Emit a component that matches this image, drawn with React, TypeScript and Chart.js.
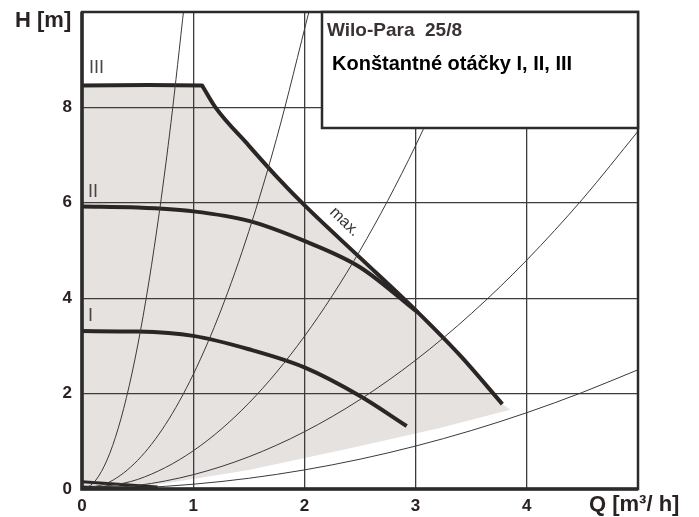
import React, { useEffect, useRef } from 'react';
import { Chart, registerables } from 'chart.js';
Chart.register(...registerables);

// ---- axis ranges / ticks ----
const xMax = 5;
const yMax = 10;
const xHiddenTick = 5;
const yHiddenTick = 10;

// ---- pump curves (Q [m3/h], H [m]) ----
const speedIIIQ = [0, 0.6, 1.08];
const speedIIIH = [8.46, 8.47, 8.46];
const maxQ = [1.08, 1.2, 1.5, 1.75, 2.0, 2.5, 3.0, 3.4, 3.78];
const maxH = [8.46, 8.0, 7.2, 6.55, 5.95, 4.85, 3.75, 2.8, 1.78];
const speedIIQ = [0, 0.5, 1.0, 1.5, 2.0, 2.5, 3.02];
const speedIIH = [5.92, 5.9, 5.82, 5.62, 5.2, 4.65, 3.7];
const speedIQ = [0, 0.5, 1.0, 1.5, 2.0, 2.5, 2.92];
const speedIH = [3.31, 3.3, 3.21, 2.93, 2.55, 1.95, 1.32];

// ---- system curves ----
const sysAQ = [0, 0.1, 0.2, 0.3, 0.4, 0.5, 0.6, 0.7, 0.8, 0.92];
const sysAH = [0, 0.12, 0.48, 1.08, 1.92, 3.0, 4.32, 5.88, 7.68, 10.16];
const sysBQ = [0, 0.25, 0.5, 0.75, 1.0, 1.25, 1.5, 1.75, 2.05];
const sysBH = [0, 0.15, 0.6, 1.35, 2.4, 3.75, 5.4, 7.35, 10.09];
const sysCQ = [0, 0.5, 1.0, 1.5, 2.0, 2.5, 3.0, 3.55];
const sysCH = [0, 0.2, 0.8, 1.8, 3.2, 5.0, 7.2, 10.08];
const sysDQ = [0, 0.5, 1.0, 1.5, 2.0, 2.5, 3.0, 3.5, 4.0, 4.5, 5.0];
const sysDH = [0, 0.075, 0.3, 0.675, 1.2, 1.875, 2.7, 3.675, 4.8, 6.075, 7.5];
const sysEQ = [0, 0.5, 1.0, 1.5, 2.0, 2.5, 3.0, 3.5, 4.0, 4.5, 5.0];
const sysEH = [0, 0.025, 0.1, 0.225, 0.4, 0.625, 0.9, 1.225, 1.6, 2.025, 2.5];

// ---- small low-flow segments near origin ----
const lowQ = [0, 0.68];
const lowH1 = [0.15, 0.04];
const lowH2 = [0.05, 0.02];

// ---- lower edge of grey operating field ----
const grayLowQ = [3.85, 3.2, 2.4, 1.5, 0.7, 0];
const grayLowH = [1.66, 1.27, 0.85, 0.4, 0.1, 0];

const titleText = 'Wilo-Para  25/8';
const subtitleText = 'Konštantné otáčky I, II, III';
const yAxisTitle = 'H [m]';
const xAxisTitle = 'Q [m³/ h]';

const FONT = '"Liberation Sans", Arial, sans-serif';

const pts = (q: number[], h: number[]) => q.map((v, i) => ({ x: v, y: h[i] }));

const App = () => {
  const ref = useRef<HTMLCanvasElement>(null);
  useEffect(() => {
    if (!ref.current) return;
    const thick = (q: number[], h: number[]) => ({
      data: pts(q, h),
      showLine: true,
      borderColor: '#2a2625',
      borderWidth: 4,
      pointRadius: 0,
      cubicInterpolationMode: 'monotone' as const,
      borderCapStyle: 'butt' as const,
      borderJoinStyle: 'round' as const,
    });
    const thin = (q: number[], h: number[]) => ({
      data: pts(q, h),
      showLine: true,
      borderColor: '#3a3a3a',
      borderWidth: 1,
      pointRadius: 0,
      cubicInterpolationMode: 'monotone' as const,
    });

    const decor = {
      id: 'decor',
      beforeDraw(chart: any) {
        const { ctx } = chart;
        const xs = chart.scales.x;
        const ys = chart.scales.y;
        const X = (v: number) => xs.getPixelForValue(v);
        const Y = (v: number) => ys.getPixelForValue(v);
        ctx.save();
        ctx.beginPath();
        ctx.moveTo(X(0), Y(0));
        speedIIIQ.forEach((q, i) => ctx.lineTo(X(q), Y(speedIIIH[i])));
        maxQ.forEach((q, i) => ctx.lineTo(X(q), Y(maxH[i])));
        grayLowQ.forEach((q, i) => ctx.lineTo(X(q), Y(grayLowH[i])));
        ctx.closePath();
        ctx.fillStyle = '#e6e2e0';
        ctx.fill();
        ctx.restore();
      },
      afterDraw(chart: any) {
        const { ctx, chartArea: ca } = chart;
        const xs = chart.scales.x;
        const ys = chart.scales.y;
        const X = (v: number) => xs.getPixelForValue(v);
        const Y = (v: number) => ys.getPixelForValue(v);
        ctx.save();
        // frame
        ctx.strokeStyle = '#2b2b2b';
        ctx.lineWidth = 2.5;
        ctx.strokeRect(ca.left, ca.top, ca.right - ca.left, ca.bottom - ca.top);
        ctx.lineWidth = 3.5;
        ctx.beginPath();
        ctx.moveTo(ca.left, ca.top);
        ctx.lineTo(ca.left, ca.bottom);
        ctx.lineTo(ca.right, ca.bottom);
        ctx.stroke();

        // legend box
        const bl = 322, bt = ca.top, br = ca.right, bb = 128;
        ctx.fillStyle = '#ffffff';
        ctx.fillRect(bl, bt, br - bl, bb - bt);
        ctx.lineWidth = 2.5;
        ctx.strokeStyle = '#2b2b2b';
        ctx.strokeRect(bl, bt, br - bl, bb - bt);
        ctx.textBaseline = 'middle';
        ctx.textAlign = 'left';
        ctx.fillStyle = '#3a3232';
        ctx.font = `bold 19px ${FONT}`;
        ctx.fillText(titleText, 327, 31);
        ctx.fillStyle = '#000000';
        ctx.font = `bold 20px ${FONT}`;
        ctx.fillText(subtitleText, 332, 64);

        // curve labels
        ctx.fillStyle = '#4a4444';
        ctx.font = `18px ${FONT}`;
        ctx.fillText('III', X(0.063), Y(8.82));
        ctx.fillText('II', X(0.055), Y(6.22));
        ctx.fillText('I', X(0.055), Y(3.62));

        // max. label
        ctx.save();
        ctx.translate(X(2.36), Y(5.6));
        ctx.rotate((44 * Math.PI) / 180);
        ctx.textAlign = 'center';
        ctx.fillStyle = '#333';
        ctx.font = `16px ${FONT}`;
        ctx.fillText('max.', 0, 0);
        ctx.restore();

        // axis titles
        ctx.fillStyle = '#2a2222';
        ctx.font = `bold 22px ${FONT}`;
        ctx.textAlign = 'left';
        ctx.fillText(yAxisTitle, 15, 21);
        ctx.fillText(xAxisTitle, 589, 505);
        ctx.restore();
      },
    };

    const chart = new Chart(ref.current, {
      type: 'scatter',
      data: {
        datasets: [
          thin(sysAQ, sysAH),
          thin(sysBQ, sysBH),
          thin(sysCQ, sysCH),
          thin(sysDQ, sysDH),
          thin(sysEQ, sysEH),
          { ...thick(lowQ, lowH1), borderWidth: 3 },
          { ...thick(lowQ, lowH2), borderWidth: 2 },
          thick(speedIQ, speedIH),
          thick(speedIIQ, speedIIH),
          { ...thick(speedIIIQ, speedIIIH), cubicInterpolationMode: 'default', tension: 0, borderCapStyle: 'round' },
          { ...thick(maxQ, maxH), borderCapStyle: 'butt' },
        ] as any,
      },
      options: {
        responsive: false,
        animation: false,
        layout: { padding: { top: 12, right: 61, left: 0, bottom: 0 } },
        plugins: { legend: { display: false }, tooltip: { enabled: false } },
        scales: {
          x: {
            type: 'linear',
            min: 0,
            max: xMax,
            ticks: {
              stepSize: 1,
              padding: 7,
              color: '#2a2222',
              font: { family: FONT, size: 17, weight: 'bold' },
              callback: (v: any) => (v === xHiddenTick ? '' : String(v)),
            },
            grid: { color: '#3c3c3c', lineWidth: 1.3, drawTicks: false },
            border: { display: false },
            afterFit: (s: any) => {
              s.height = 28;
              s.paddingLeft = 0;
              s.paddingRight = 0;
            },
          },
          y: {
            type: 'linear',
            min: 0,
            max: yMax,
            ticks: {
              stepSize: 2,
              padding: 10,
              color: '#2a2222',
              font: { family: FONT, size: 17, weight: 'bold' },
              callback: (v: any) => (v === yHiddenTick ? '' : String(v)),
            },
            grid: { color: '#3c3c3c', lineWidth: 1.3, drawTicks: false },
            border: { display: false },
            afterFit: (s: any) => {
              s.width = 82;
              s.paddingTop = 0;
              s.paddingBottom = 0;
            },
          },
        },
      },
      plugins: [decor],
    });
    return () => chart.destroy();
  }, []);

  return (
    <div style={{ position: 'absolute', left: 0, top: 0, width: 699, height: 517, background: '#fff' }}>
      <canvas ref={ref} width={699} height={517} style={{ display: 'block' }} />
    </div>
  );
};

export default App;
